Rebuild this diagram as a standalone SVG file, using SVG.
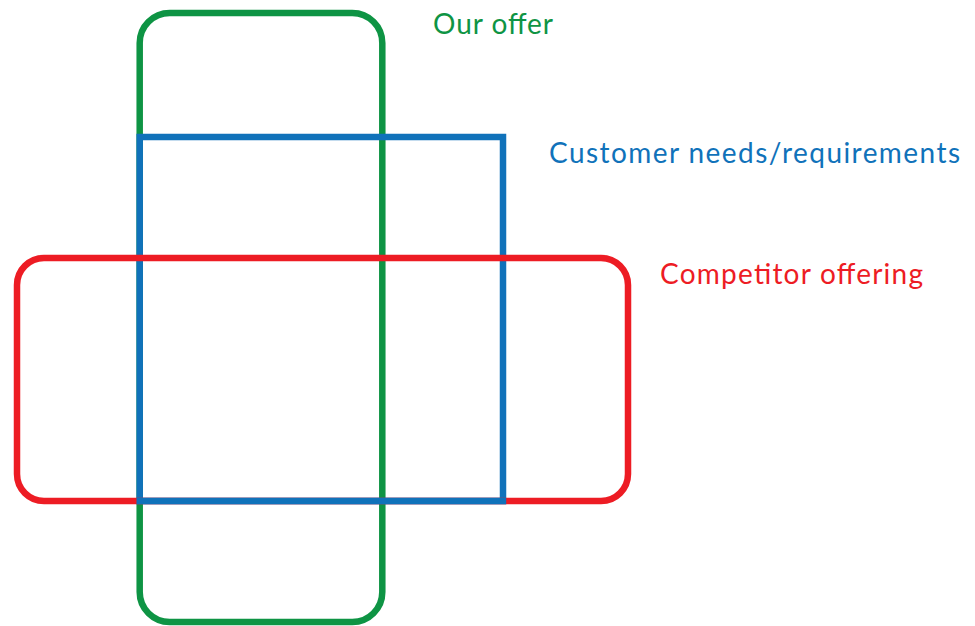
<svg xmlns="http://www.w3.org/2000/svg" width="975" height="626" viewBox="0 0 975 626">
<style>
.s{fill:none;stroke-width:6.5}
.t{font-family:Lato,"Open Sans",sans-serif;font-size:28px}
</style>
<rect width="975" height="626" fill="#fff"/>
<g id="our-offer">
<rect class="s" x="139.7" y="13" width="242.6" height="609" rx="30" stroke="#0e9444"/>
<text class="t" x="433" y="34" fill="#0e9444" textLength="120" lengthAdjust="spacing">Our offer</text>
</g>
<g id="customer-needs">
<rect class="s" x="139.7" y="137" width="363.3" height="364" stroke="#1072ba"/>
<text class="t" x="549" y="163" fill="#1072ba" textLength="411" lengthAdjust="spacing">Customer needs/requirements</text>
</g>
<g id="competitor-offering">
<rect class="s" x="17" y="258" width="611" height="243" rx="27" stroke="#ed1c24"/>
<text class="t" x="660" y="284" fill="#ed1c24" textLength="263" lengthAdjust="spacing">Competitor offering</text>
</g>
<g id="connectors">
<line x1="136.5" y1="501" x2="506.2" y2="501" stroke="#1072ba" stroke-width="6.5"/>
</g>
</svg>
